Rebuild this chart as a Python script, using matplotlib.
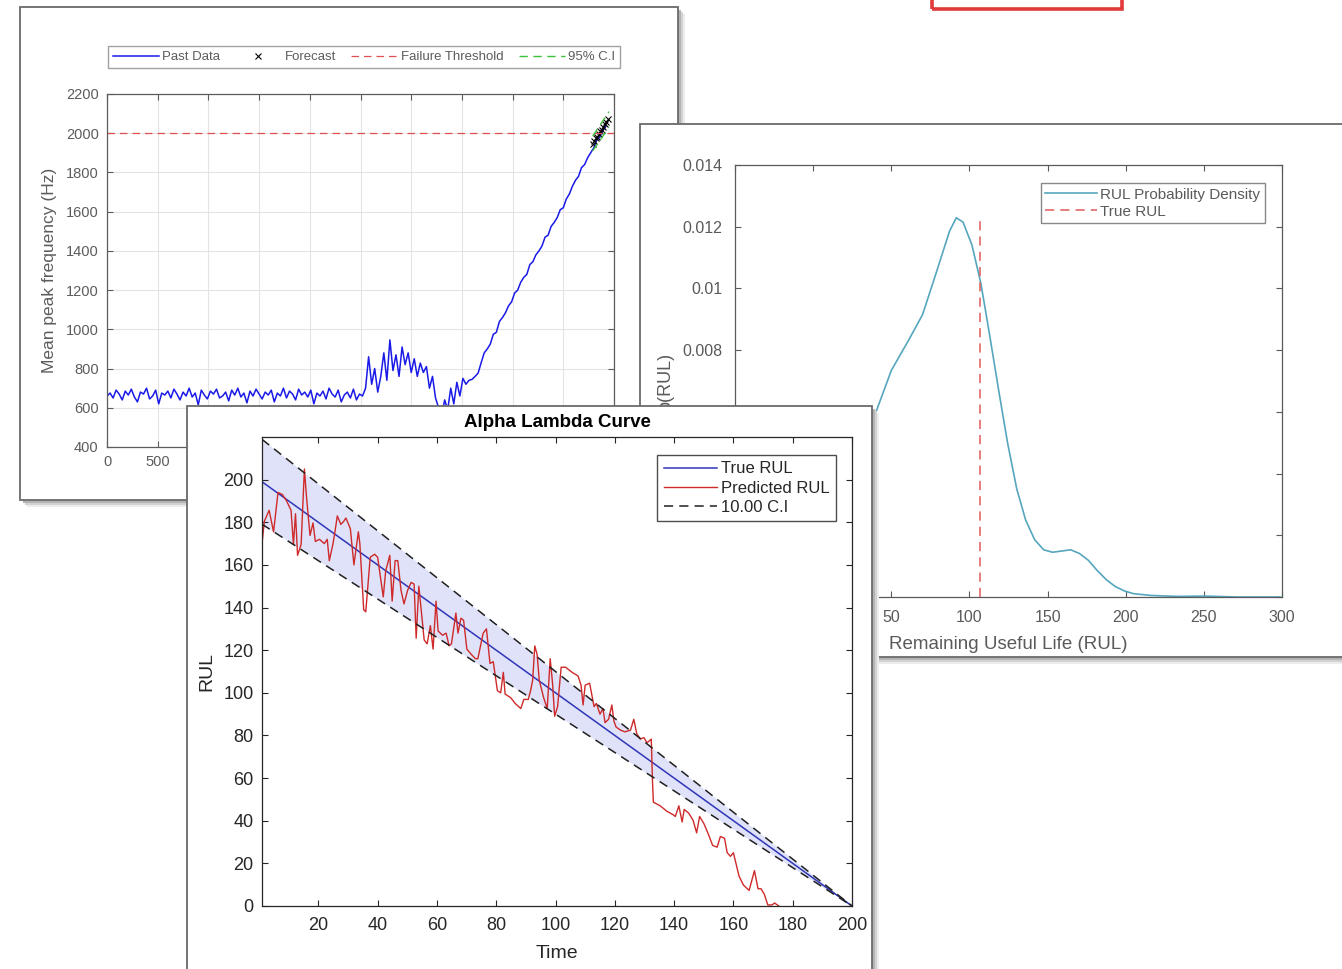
import matplotlib
matplotlib.use('Agg')
import matplotlib.pyplot as plt
import numpy as np
from matplotlib.patches import Rectangle
from matplotlib.ticker import FuncFormatter

plt.rcParams['font.family'] = ['Liberation Sans', 'DejaVu Sans']

W, H = 1342, 969

# ---- window 1: mean peak frequency history (sampled every 30 units) ----
freq_step = 30
freq_flat = [660, 675, 650, 690, 670, 640, 685, 665, 695, 655,
             630, 680, 670, 700, 645, 660, 690, 620, 675, 665,
             685, 650, 695, 670, 640, 680, 660, 700, 655, 675,
             615, 690, 665, 645, 685, 670, 695, 650, 660, 680,
             635, 690, 665, 700, 655, 675, 625, 685, 660, 695,
             670, 645, 680, 665, 690, 630, 675, 660, 700, 650,
             685, 670, 640, 695, 665, 680, 655, 690, 620, 675,
             660, 685, 645, 700, 670, 655, 690, 630, 665, 680,
             650, 695, 640, 670, 660]
freq_bump = [700, 860, 720, 800, 680, 760, 880, 740, 946, 790,
             870, 760, 910, 820, 880, 780, 850, 760, 828, 780,
             810, 700, 760, 650, 600, 560, 640, 590, 700, 620,
             730, 660, 750, 720, 740, 745, 760, 777]
freq_rise = [830, 880, 900, 925, 975, 985, 1040, 1060, 1085, 1120,
             1140, 1185, 1200, 1240, 1265, 1280, 1330, 1345, 1380, 1400,
             1425, 1470, 1480, 1525, 1545, 1570, 1610, 1620, 1665, 1690,
             1730, 1760, 1780, 1825, 1840, 1875, 1900, 1925, 1965, 1980,
             2015, 2035]
forecast_t = [4790, 4805, 4820, 4835, 4850, 4865, 4880, 4895, 4910, 4925, 4940]
forecast_v = [1945, 1960, 1975, 1980, 1995, 2010, 2015, 2030, 2045, 2055, 2070]
ci_t = [4790, 4950]
ci_hi = [1985, 2110]
ci_lo = [1910, 2030]
threshold = 2000

# ---- window 2: RUL probability density ----
dens_x = [30, 38.5, 50, 61.5, 70, 78.7, 87.3, 91.6, 95.9, 101.6, 107.3, 113,
          118.8, 124.5, 130.3, 136, 141.7, 147.5, 153.2, 159, 164.7, 170.4,
          176.1, 181.9, 187.6, 193.3, 199, 204.8, 216, 233, 250.7, 270.8, 299]
dens_y = [0.0047, 0.00576, 0.00734, 0.00836, 0.00915, 0.0105, 0.01186, 0.01229,
          0.01215, 0.01141, 0.01017, 0.00847, 0.00667, 0.00497, 0.0035, 0.00249,
          0.00186, 0.00153, 0.00145, 0.00149, 0.00153, 0.00141, 0.00119, 0.00085,
          0.00056, 0.00034, 0.0002, 0.00011, 0.00005, 0.00002, 0.00003, 0.0, 0.0]
true_rul_value = 107
true_rul_height = 0.0122

# ---- window 3: alpha-lambda curve ----
true_t = [1, 200]
true_rul = [199, 0]
upper_rul = [218.9, 0]
lower_rul = [179.1, 0]
pred_t = [1, 1.8, 3.4, 4.9, 6.4, 7.9, 9.3, 10.8, 11.6, 12.3,
          13, 14.2, 15.3, 16, 17.2, 18.2, 19, 20.4, 22, 23,
          23.7, 24.9, 25.6, 26.4, 27.6, 28.6, 29.3, 30.8, 32, 33.5,
          34, 35.3, 36, 36.7, 37.5, 39, 40, 41.2, 41.9, 42.7,
          44.1, 44.9, 45.9, 46.8, 47.9, 48.9, 50.1, 51.3, 52.3, 53,
          53.9, 54.8, 55.7, 56.7, 57.8, 58.7, 59.7, 60.4, 61.9, 63.1,
          64.1, 64.9, 66.4, 67.1, 68.1, 69, 70.1, 71.6, 73, 73.8,
          75.6, 76.7, 77.9, 79, 80.4, 81.5, 82.4, 83, 84.9, 86.4,
          88.3, 89.3, 90.8, 91.6, 92.3, 93, 93.8, 94.5, 96, 97.2,
          98.2, 99, 99.7, 100.7, 101.9, 103.4, 105.6, 107.6, 108.6, 109.3,
          110, 111.5, 113, 113.8, 115, 116, 116.7, 117.9, 119, 119.7,
          120.4, 121.9, 123.4, 125.3, 126.4, 127.4, 128.6, 129.8, 130.8, 131.6,
          132.3, 132.7, 133, 135.3, 137.5, 139.7, 140.4, 141.6, 142.7, 143.4,
          144.9, 146.4, 147.6, 148.6, 150.1, 151.6, 153, 154.5, 155.6, 157,
          157.9, 159, 160, 161.9, 163.4, 165.3, 167.1, 168.3, 169.3, 170.4,
          171.6, 173, 173.9, 175.3]
pred_rul = [170, 180.5, 185.6, 175.5, 194, 193, 190, 185.6, 169.6, 184,
            164.5, 169.6, 205, 192, 173.8, 179.7, 171, 172, 170, 172,
            162, 169.6, 175.5, 183, 179, 180.5, 182, 177, 160, 175.5,
            170, 139, 138, 150, 163.6, 165, 163.6, 151.8, 145, 157,
            164.5, 143, 162, 162, 148, 141.7, 148, 151.8, 151, 125.6,
            150, 137.4, 124.8, 123, 131.5, 120.5, 143, 129, 127, 128,
            122, 123, 137.4, 128, 135, 134, 120.5, 118, 116, 116,
            128, 130, 113.8, 114.6, 101, 100, 109.6, 99.4, 97.7, 95,
            92.6, 96.9, 96.9, 101, 106, 122, 118, 106, 97.7, 92.6,
            116, 104.5, 89, 93.5, 112, 112, 109.6, 107.9, 103.6, 94.3,
            103.6, 104.5, 93.5, 95, 90, 92.6, 86, 87.6, 94.3, 86.7,
            84, 82.5, 81.7, 82.5, 87.6, 80.8, 78.3, 79, 76.6, 77.4,
            78.3, 58.8, 48.7, 47, 44.5, 42.8, 42, 47, 39.4, 45.3,
            43.6, 40.2, 34.3, 42, 38.5, 33.5, 28.4, 27.6, 32.6, 31.8,
            25, 23.3, 25, 14, 9.8, 7.3, 16.6, 8.1, 8.1, 5.6,
            0.5, 0.5, 1.4, 0]


def fig_box(x0, y0, x1, y1):
    """Pixel box (top-left origin) -> figure fraction [l, b, w, h]."""
    return [x0 / W, 1 - y1 / H, (x1 - x0) / W, (y1 - y0) / H]


def draw_window(fig, x0, y0, x1, y1, z):
    """White figure window with a soft drop shadow."""
    for off, col in [(7, '#ececec'), (5, '#d2d2d2'), (3, '#b4b4b4')]:
        l, b, w, h = fig_box(x0 + off, y0 + off, x1 + off, y1 + off)
        fig.add_artist(Rectangle((l, b), w, h, transform=fig.transFigure,
                                 facecolor=col, edgecolor='none', zorder=z))
    l, b, w, h = fig_box(x0, y0, x1, y1)
    fig.add_artist(Rectangle((l, b), w, h, transform=fig.transFigure,
                             facecolor='white', edgecolor='#6a6a6a', lw=1.3, zorder=z))


def style_axes(ax, color, size, pad):
    ax.tick_params(direction='in', top=True, right=True, colors=color,
                   labelsize=size, length=4, width=0.8, pad=pad)
    for s in ax.spines.values():
        s.set_color(color)
        s.set_linewidth(0.9)


fig = plt.figure(figsize=(W / 100, H / 100), dpi=100)
fig.patch.set_facecolor('white')

# red selection box at the top
l, b, w, h = fig_box(932, -20, 1122, 9)
fig.add_artist(Rectangle((l, b), w, h, transform=fig.transFigure, facecolor='none',
                         edgecolor='#e03a3a', lw=2.6, zorder=0.5))

# ================= window 1 =================
draw_window(fig, 20, 7, 678, 500, 1)
ax1 = fig.add_axes(fig_box(107, 94, 614, 447))
ax1.set_zorder(2)
gray1 = '#5c5c5c'
freq = freq_flat + freq_bump + freq_rise
freq_t = np.arange(len(freq)) * freq_step
ax1.plot(freq_t, freq, color='#1a1ae8', lw=1.1, label='Past Data')
ax1.plot(forecast_t, forecast_v, 'x', color='black', ms=4, mew=0.8, label='Forecast')
ax1.axhline(threshold, color='#e05050', ls=(0, (6, 4)), lw=0.9, label='Failure Threshold')
ax1.plot(ci_t, ci_hi, color='#3cc03c', ls=(0, (6, 4)), lw=1.0, label='95% C.I')
ax1.plot(ci_t, ci_lo, color='#3cc03c', ls=(0, (6, 4)), lw=1.0)
ax1.set_xlim(0, 5000)
ax1.set_ylim(400, 2200)
ax1.set_xticks(np.arange(0, 5001, 500))
ax1.set_yticks(np.arange(400, 2201, 200))
ax1.grid(True, color='#e4e4e4', lw=0.8)
ax1.set_axisbelow(True)
style_axes(ax1, gray1, 10.5, 6)
ax1.set_ylabel('Mean peak frequency (Hz)', fontsize=12.5, color=gray1, labelpad=6)
ax1.legend(loc='lower left', bbox_to_anchor=(0.002, 1.074, 1.01, 0.065), mode='expand',
           ncol=4, fontsize=9.5, frameon=True, fancybox=False, edgecolor='#8a8a8a',
           handlelength=3.5, handletextpad=0.25, columnspacing=0.6, borderpad=0.35,
           borderaxespad=0, labelcolor=gray1)

# ================= window 2 =================
draw_window(fig, 640, 124, 1360, 657, 3)
ax2 = fig.add_axes(fig_box(735, 165, 1282, 597))
ax2.set_zorder(4)
gray2 = '#5a5a5a'
ax2.plot(dens_x, dens_y, color='#56a6bd', lw=1.2, label='RUL Probability Density')
ax2.plot([true_rul_value, true_rul_value], [0, true_rul_height], color='#e05a5a',
         ls=(0, (6, 4)), lw=1.1, label='True RUL')
ax2.set_xlim(-50, 300)
ax2.set_ylim(0, 0.014)
ax2.set_xticks(np.arange(-50, 301, 50))
ax2.set_yticks(np.arange(0, 0.0141, 0.002))
ax2.yaxis.set_major_formatter(FuncFormatter(lambda v, p: '%g' % round(v, 4)))
style_axes(ax2, gray2, 11.5, 9)
ax2.set_xlabel('Remaining Useful Life (RUL)', fontsize=13.5, color=gray2, labelpad=8)
ax2.set_ylabel('p(RUL)', fontsize=13, color=gray2, labelpad=6)
ax2.legend(loc='upper right', bbox_to_anchor=(0.969, 0.958), borderaxespad=0,
           fontsize=11, frameon=True, fancybox=False, edgecolor='#6a6a6a',
           handlelength=3.4, handletextpad=0.2, borderpad=0.3, labelspacing=0.2,
           labelcolor=gray2)

# ================= window 3 =================
draw_window(fig, 187, 406, 872, 990, 5)
ax3 = fig.add_axes(fig_box(262, 437, 852, 906))
ax3.set_zorder(6)
dark = '#262626'
ax3.fill_between(true_t, lower_rul, upper_rul, color='#dfe2f8', lw=0)
ax3.plot(true_t, true_rul, color='#2f36b8', lw=1.1, label='True RUL')
ax3.plot(pred_t, pred_rul, color='#cf2a2a', lw=1.0, label='Predicted RUL')
ax3.plot(true_t, upper_rul, color='#202020', ls=(0, (6, 4)), lw=1.1, label='10.00 C.I')
ax3.plot(true_t, lower_rul, color='#202020', ls=(0, (6, 4)), lw=1.1)
ax3.set_xlim(1, 200)
ax3.set_ylim(0, 220)
ax3.set_xticks(np.arange(20, 201, 20))
ax3.set_yticks(np.arange(0, 201, 20))
style_axes(ax3, dark, 13, 6)
ax3.tick_params(axis='x', pad=8)
ax3.set_xlabel('Time', fontsize=14, color=dark, labelpad=8)
ax3.set_ylabel('RUL', fontsize=14, color=dark, labelpad=6)
ax3.set_title('Alpha Lambda Curve', fontsize=13.5, fontweight='bold', color='black', pad=7)
ax3.legend(loc='upper right', bbox_to_anchor=(0.973, 0.962), borderaxespad=0,
           fontsize=12, frameon=True, fancybox=False, edgecolor='#202020',
           handlelength=3.2, handletextpad=0.2, borderpad=0.4, labelspacing=0.25,
           labelcolor=dark)

fig.savefig('out.png', dpi=100, facecolor='white')
